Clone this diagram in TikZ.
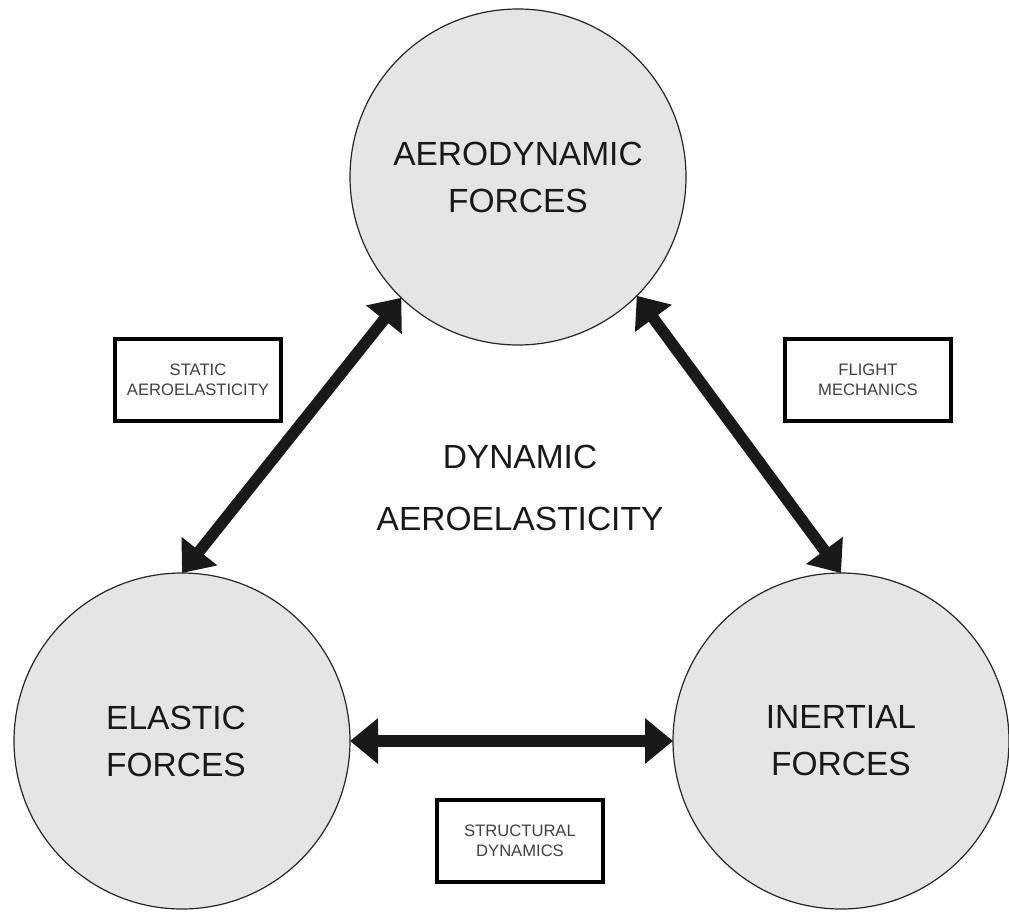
\documentclass[tikz,border=0pt]{standalone}
\usepackage{fontspec}
\setmainfont{Liberation Sans}
\usetikzlibrary{arrows.meta}
\definecolor{circfill}{HTML}{E5E5E5}
\begin{document}
\begin{tikzpicture}[x=1pt,y=-1pt,
  force/.style={circle, draw=black!85, line width=1.2pt, fill=circfill, minimum size=336pt, inner sep=0pt, outer sep=0pt, align=center, font=\fontsize{33.5}{47}\selectfont, text=black!90},
  tag/.style={draw=black, line width=3.6pt, fill=white, minimum width=166pt, minimum height=82pt, inner sep=0pt, align=center, font=\fontsize{16.6}{20.5}\selectfont, text=black!75},
  link/.style={line width=11.5pt, draw=black!90, {Triangle[length=28pt,width=44pt]}-{Triangle[length=28pt,width=44pt]}},
  bigtext/.style={align=center, font=\fontsize{33.5}{62}\selectfont, text=black!90}
]
\useasboundingbox (0,0) rectangle (1009,912);
\fill[white] (0,0) rectangle (1009,912);

\node[force] (aero) at (518,177) {AERODYNAMIC\\FORCES};
\node[force] (elastic) at (182,741) {ELASTIC\hspace*{12pt}\\FORCES\hspace*{12pt}};
\node[force] (inertial) at (841,741) {INERTIAL\\FORCES};

\node[tag] (static) at (198,380) {STATIC\\AEROELASTICITY};
\node[tag] (flight) at (868,380) {FLIGHT\\MECHANICS};
\node[tag] (struct) at (520,841) {STRUCTURAL\\DYNAMICS};

\node[bigtext] (dyn) at (520,488) {DYNAMIC\\AEROELASTICITY};

\draw[link] (aero.226) -- (elastic.north);
\draw[link] (aero.315) -- (inertial.north);
\draw[link] (elastic.east) -- (inertial.west);
\end{tikzpicture}
\end{document}
